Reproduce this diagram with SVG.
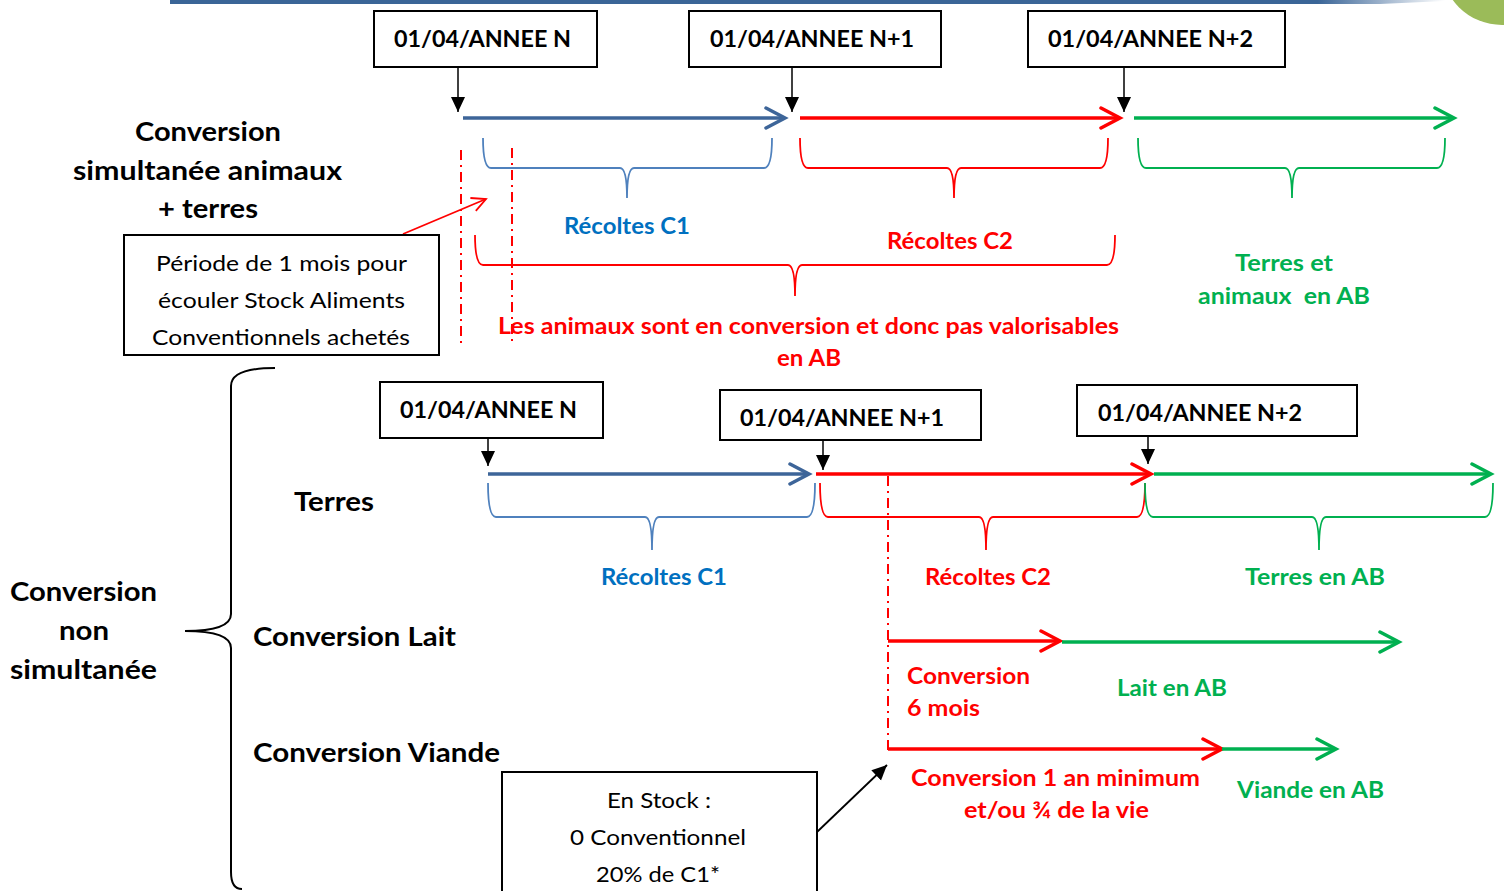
<svg xmlns="http://www.w3.org/2000/svg" width="1504" height="891" viewBox="0 0 1504 891">
<style>
text{font-family:Lato,"Liberation Sans",sans-serif}
.b{font-weight:bold}
.lbl{font-size:27px;font-weight:bold;fill:#000}
.date{font-size:23px;font-weight:bold;fill:#000}
.box{fill:#fff;stroke:#000;stroke-width:2}
.note{font-size:22px;fill:#000}
.cb{font-size:23px;font-weight:bold;fill:#0070c0}
.cr{font-size:23px;font-weight:bold;fill:#ff0000}
.cg{font-size:23px;font-weight:bold;fill:#00b050}
.tl{stroke-width:3.5;fill:none}
.blue{stroke:#3d6599}
.red{stroke:#ff0000}
.green{stroke:#00b050}
.br{fill:none;stroke-width:1.8}
.dd{stroke:#ff0000;stroke-width:2;stroke-dasharray:10 5 2 5;fill:none}
.down{stroke:#000;stroke-width:1.5;fill:none}
</style>
<defs>
<linearGradient id="barg" x1="0" x2="1" y1="0" y2="0">
<stop offset="0" stop-color="#3a6597"/>
<stop offset="0.9" stop-color="#3a6597"/>
<stop offset="1" stop-color="#3a6597" stop-opacity="0"/>
</linearGradient>
<marker id="hb" markerUnits="userSpaceOnUse" markerWidth="26" markerHeight="26" refX="22" refY="12" orient="auto" viewBox="0 0 26 26"><path d="M3,2 L22,12 L3,22" fill="none" stroke="#3d6599" stroke-width="3.5" stroke-linecap="round"/></marker>
<marker id="hr" markerUnits="userSpaceOnUse" markerWidth="26" markerHeight="26" refX="22" refY="12" orient="auto" viewBox="0 0 26 26"><path d="M3,2 L22,12 L3,22" fill="none" stroke="#ff0000" stroke-width="3.5" stroke-linecap="round"/></marker>
<marker id="hg" markerUnits="userSpaceOnUse" markerWidth="26" markerHeight="26" refX="22" refY="12" orient="auto" viewBox="0 0 26 26"><path d="M3,2 L22,12 L3,22" fill="none" stroke="#00b050" stroke-width="3.5" stroke-linecap="round"/></marker>
<marker id="hrs" markerUnits="userSpaceOnUse" markerWidth="20" markerHeight="20" refX="16" refY="9" orient="auto" viewBox="0 0 20 20"><path d="M2,2 L16,9 L2,16" fill="none" stroke="#ff0000" stroke-width="1.8"/></marker>
<marker id="hk" markerUnits="userSpaceOnUse" markerWidth="16" markerHeight="16" refX="15" refY="7" orient="auto" viewBox="0 0 16 16"><path d="M0,0 L15,7 L0,14 Z" fill="#000"/></marker>
</defs>
<rect width="1504" height="891" fill="#fff"/>
<g id="decor">
<polygon points="170,0 1445,0 1445,1 1380,4 170,4" fill="url(#barg)"/>
<circle cx="1502" cy="-36" r="61" fill="#9bbb59"/>
</g>
<g id="connectors">
<line class="down" x1="458" y1="67" x2="458" y2="112" marker-end="url(#hk)"/>
<line class="down" x1="792" y1="67" x2="792" y2="112" marker-end="url(#hk)"/>
<line class="down" x1="1124" y1="67" x2="1124" y2="112" marker-end="url(#hk)"/>
<line class="tl blue" x1="463" y1="118" x2="785" y2="118" marker-end="url(#hb)"/>
<line class="tl red" x1="800" y1="118" x2="1120" y2="118" marker-end="url(#hr)"/>
<line class="tl green" x1="1134" y1="118" x2="1454" y2="118" marker-end="url(#hg)"/>
<path class="br" stroke="#4f81bd" d="M483,138 Q483,168 491,168 L620,168 Q627,168 627,198 Q627,168 634,168 L764,168 Q772,168 772,138"/>
<path class="br red" d="M800,138 Q800,168 808,168 L947,168 Q954,168 954,198 Q954,168 961,168 L1100,168 Q1108,168 1108,138"/>
<path class="br green" d="M1138,138 Q1138,168 1146,168 L1285,168 Q1292,168 1292,198 Q1292,168 1299,168 L1437,168 Q1445,168 1445,138"/>
<path class="br red" d="M475,235 Q475,265 483,265 L788,265 Q795,265 795,296 Q795,265 802,265 L1107,265 Q1115,265 1115,235"/>
<line class="dd" x1="461" y1="150" x2="461" y2="345"/>
<line class="dd" x1="512" y1="148" x2="512" y2="343"/>
<line x1="403" y1="234" x2="486" y2="199" stroke="#ff0000" stroke-width="1.8" marker-end="url(#hrs)"/>
<path d="M275,368 Q231,368 231,386 L231,614 Q231,631 185,631 Q231,631 231,648 L231,872 Q231,889 242,889" fill="none" stroke="#000" stroke-width="2"/>
<line class="down" x1="488" y1="438" x2="488" y2="466" marker-end="url(#hk)"/>
<line class="down" x1="823" y1="440" x2="823" y2="470" marker-end="url(#hk)"/>
<line class="down" x1="1148" y1="436" x2="1148" y2="464" marker-end="url(#hk)"/>
<line class="tl blue" x1="488" y1="474" x2="809" y2="474" marker-end="url(#hb)"/>
<line class="tl red" x1="816" y1="474" x2="1151" y2="474" marker-end="url(#hr)"/>
<line class="tl green" x1="1154" y1="474" x2="1491" y2="474" marker-end="url(#hg)"/>
<path class="br" stroke="#4f81bd" d="M488,483 Q488,517 496,517 L645,517 Q652,517 652,550 Q652,517 659,517 L807,517 Q815,517 815,483"/>
<path class="br red" d="M820,483 Q820,517 828,517 L979,517 Q986,517 986,550 Q986,517 993,517 L1137,517 Q1145,517 1145,483"/>
<path class="br green" d="M1145,483 Q1145,517 1153,517 L1312,517 Q1319,517 1319,550 Q1319,517 1326,517 L1485,517 Q1493,517 1493,483"/>
<line class="dd" x1="888" y1="476" x2="888" y2="752"/>
<line class="tl red" x1="888" y1="641" x2="1060" y2="641" marker-end="url(#hr)"/>
<line class="tl green" x1="1062" y1="642" x2="1399" y2="642" marker-end="url(#hg)"/>
<line class="tl red" x1="888" y1="749" x2="1222" y2="749" marker-end="url(#hr)"/>
<line class="tl green" x1="1222" y1="749" x2="1336" y2="749" marker-end="url(#hg)"/>
<line x1="817" y1="832" x2="887" y2="765" stroke="#000" stroke-width="1.8" marker-end="url(#hk)"/>
</g>
<g id="label-simultanee">
<text class="lbl" x="135" y="141" textLength="146" lengthAdjust="spacingAndGlyphs">Conversion</text>
<text class="lbl" x="73" y="180" textLength="269" lengthAdjust="spacingAndGlyphs">simultanée animaux</text>
<text class="lbl" x="158" y="218" textLength="100" lengthAdjust="spacingAndGlyphs">+ terres</text>
</g>
<g id="date-n-top">
<rect class="box" x="374" y="11" width="223" height="56"/>
<text class="date" x="394" y="47" textLength="177" lengthAdjust="spacingAndGlyphs">01/04/ANNEE N</text>
</g>
<g id="date-n1-top">
<rect class="box" x="689" y="11" width="252" height="56"/>
<text class="date" x="710" y="47" textLength="204" lengthAdjust="spacingAndGlyphs">01/04/ANNEE N+1</text>
</g>
<g id="date-n2-top">
<rect class="box" x="1028" y="11" width="257" height="56"/>
<text class="date" x="1048" y="47" textLength="205" lengthAdjust="spacingAndGlyphs">01/04/ANNEE N+2</text>
</g>
<g id="periode">
<rect class="box" x="124" y="235" width="315" height="120"/>
<text class="note" x="156" y="271" textLength="251" lengthAdjust="spacingAndGlyphs">Période de 1 mois pour</text>
<text class="note" x="158" y="308" textLength="247" lengthAdjust="spacingAndGlyphs">écouler Stock Aliments</text>
<text class="note" x="152" y="345" textLength="258" lengthAdjust="spacingAndGlyphs">Conventionnels achetés</text>
</g>
<g id="labels-top">
<text class="cb" x="564" y="234" textLength="126" lengthAdjust="spacingAndGlyphs">Récoltes C1</text>
<text class="cr" x="887" y="249" textLength="126" lengthAdjust="spacingAndGlyphs">Récoltes C2</text>
<text class="cg" x="1235" y="271" textLength="98" lengthAdjust="spacingAndGlyphs">Terres et</text>
<text class="cg" x="1198" y="304" textLength="172" lengthAdjust="spacingAndGlyphs" xml:space="preserve">animaux  en AB</text>
<text class="cr" x="498" y="334" textLength="621" lengthAdjust="spacingAndGlyphs">Les animaux sont en conversion et donc pas valorisables</text>
<text class="cr" x="777" y="366" textLength="64" lengthAdjust="spacingAndGlyphs">en AB</text>
</g>
<g id="label-non-simultanee">
<text class="lbl" x="10" y="601" textLength="147" lengthAdjust="spacingAndGlyphs">Conversion</text>
<text class="lbl" x="59" y="640" textLength="50" lengthAdjust="spacingAndGlyphs">non</text>
<text class="lbl" x="10" y="679" textLength="147" lengthAdjust="spacingAndGlyphs">simultanée</text>
</g>
<g id="row-labels">
<text class="lbl" x="294" y="511" textLength="80" lengthAdjust="spacingAndGlyphs">Terres</text>
<text class="lbl" x="253" y="646" textLength="203" lengthAdjust="spacingAndGlyphs">Conversion Lait</text>
<text class="lbl" x="253" y="762" textLength="247" lengthAdjust="spacingAndGlyphs">Conversion Viande</text>
</g>
<g id="date-n-bottom">
<rect class="box" x="380" y="382" width="223" height="56"/>
<text class="date" x="400" y="418" textLength="177" lengthAdjust="spacingAndGlyphs">01/04/ANNEE N</text>
</g>
<g id="date-n1-bottom">
<rect class="box" x="720" y="390" width="261" height="50"/>
<text class="date" x="740" y="426" textLength="204" lengthAdjust="spacingAndGlyphs">01/04/ANNEE N+1</text>
</g>
<g id="date-n2-bottom">
<rect class="box" x="1077" y="385" width="280" height="51"/>
<text class="date" x="1098" y="421" textLength="204" lengthAdjust="spacingAndGlyphs">01/04/ANNEE N+2</text>
</g>
<g id="labels-bottom">
<text class="cb" x="601" y="585" textLength="126" lengthAdjust="spacingAndGlyphs">Récoltes C1</text>
<text class="cr" x="925" y="585" textLength="126" lengthAdjust="spacingAndGlyphs">Récoltes C2</text>
<text class="cg" x="1245" y="585" textLength="140" lengthAdjust="spacingAndGlyphs">Terres en AB</text>
<text class="cr" x="907" y="684" textLength="123" lengthAdjust="spacingAndGlyphs">Conversion</text>
<text class="cr" x="907" y="716" textLength="73" lengthAdjust="spacingAndGlyphs">6 mois</text>
<text class="cg" x="1117" y="696" textLength="110" lengthAdjust="spacingAndGlyphs">Lait en AB</text>
<text class="cr" x="911" y="786" textLength="289" lengthAdjust="spacingAndGlyphs">Conversion 1 an minimum</text>
<text class="cr" x="964" y="818" textLength="185" lengthAdjust="spacingAndGlyphs">et/ou ¾ de la vie</text>
<text class="cg" x="1237" y="798" textLength="147" lengthAdjust="spacingAndGlyphs">Viande en AB</text>
</g>
<g id="stock">
<rect class="box" x="502" y="772" width="315" height="130"/>
<text class="note" x="607" y="808" textLength="104" lengthAdjust="spacingAndGlyphs">En Stock :</text>
<text class="note" x="570" y="845" textLength="176" lengthAdjust="spacingAndGlyphs">0 Conventionnel</text>
<text class="note" x="596" y="882" textLength="124" lengthAdjust="spacingAndGlyphs">20% de C1*</text>
</g>
</svg>
